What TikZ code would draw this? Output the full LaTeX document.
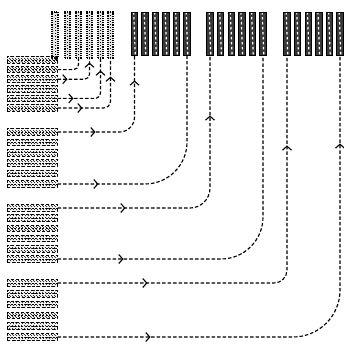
\documentclass[tikz,border=0pt]{standalone}
\usetikzlibrary{decorations.markings, arrows.meta, patterns}
\begin{document}
\begin{tikzpicture}[x=1pt, y=-1pt,
  conn/.style={draw=black, line width=1.15pt, dash pattern=on 3.5pt off 2pt},
  tipbarb/.tip={Straight Barb[length=4pt, width=9pt, line width=1.1pt]},
  harr/.style={postaction={decorate, decoration={markings, mark=at position #1 with {\arrow{tipbarb}}}}},
  bigcol/.style={draw=black, fill=black!78, minimum width=6.5pt, minimum height=43pt, inner sep=0pt, line width=0.9pt,
    path picture={\draw[white, line width=1.2pt, dash pattern=on 2.5pt off 2.5pt]
      ([xshift=-0.8pt]path picture bounding box.north) -- ([xshift=0.8pt]path picture bounding box.south);}},
  smallcol/.style={draw=black, densely dotted, line width=1.2pt, fill=black!10, minimum width=5pt, minimum height=46pt, inner sep=0pt,
    path picture={\draw[black, line width=1pt, dotted]
      (path picture bounding box.north) -- (path picture bounding box.south);}},
  rowbox/.style={draw=black, densely dashed, line width=1pt, pattern=north west lines, minimum width=50pt, minimum height=6.5pt, inner sep=0pt,
    path picture={\draw[black, line width=0.8pt, dash pattern=on 2pt off 1.5pt]
      (path picture bounding box.west) -- (path picture bounding box.east);}}
]
\useasboundingbox (0,0) rectangle (344,343);

% small top columns
\node[smallcol, minimum width=6pt] (s1) at (55,35) {};
\foreach \i/\x in {2/67.5, 3/78.5, 4/89.5, 5/100.5, 6/110.5}
  \node[smallcol] (s\i) at (\x,35) {};

% big top columns
\foreach \i in {1,...,6} {
  \node[bigcol] (A\i) at ({134.5+10.5*(\i-1)},33.5) {};
  \node[bigcol] (B\i) at ({210+10.6*(\i-1)},33.5) {};
  \node[bigcol] (C\i) at ({287+10.6*(\i-1)},33.5) {};
}

% left rows
\foreach \i in {1,...,6} {
  \node[rowbox] (r1\i) at (32,{60+9.6*(\i-1)}) {};
  \node[rowbox] (r2\i) at (32,{132+10.4*(\i-1)}) {};
  \node[rowbox] (r3\i) at (32,{208+10.2*(\i-1)}) {};
  \node[rowbox] (r4\i) at (32,{283+10.8*(\i-1)}) {};
}

% group 1 connectors
\draw[conn] (r11.east) -- (s1.south);
\draw[conn, rounded corners=5pt] (r12.east) -| (s3.south);
\draw[conn, rounded corners=5pt, harr=10pt, harr=-4pt] (r13.east) -| (s4.south);
\draw[conn, rounded corners=6pt, harr=16pt, harr=-12pt] (r15.east) -| (s5.south);
\draw[conn, rounded corners=7pt, harr=25pt, harr=-18pt] (r16.east) -| (s6.south);

% group 2 connectors
\draw[conn, rounded corners=15pt, harr=38pt, harr=-25pt] (r21.east) -| (A1.south);
\draw[conn, rounded corners=42pt, harr=41pt] (r26.east) -| (A6.south);

% group 3 connectors
\draw[conn, rounded corners=20pt, harr=68pt, harr=-60pt] (r31.east) -| (B1.south);
\draw[conn, rounded corners=42pt, harr=66pt] (r36.east) -| (B6.south);

% group 4 connectors
\draw[conn, rounded corners=13pt, harr=90pt, harr=-90pt] (r41.east) -| (C1.south);
\draw[conn, rounded corners=47pt, harr=93pt, harr=-88pt] (r46.east) -| (C6.south);
\end{tikzpicture}
\end{document}
